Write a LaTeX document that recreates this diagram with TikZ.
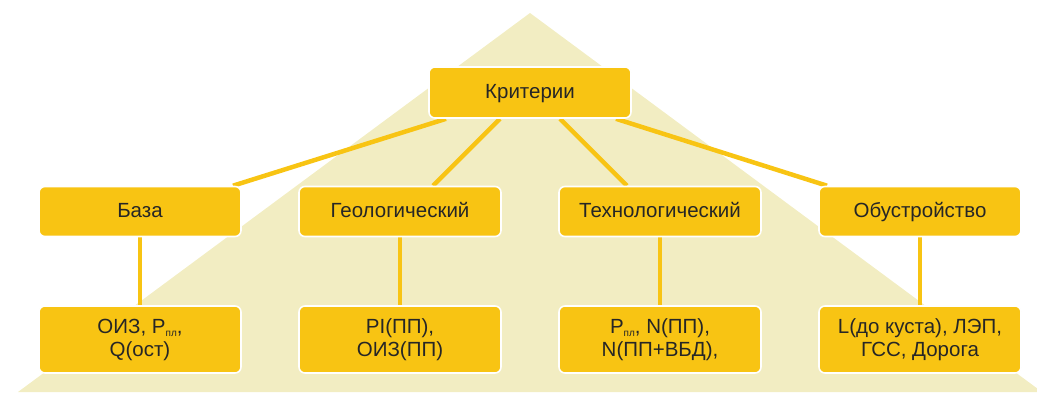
\documentclass[tikz,border=0pt]{standalone}
\usepackage{fontspec}
\setmainfont{Liberation Sans}
\usetikzlibrary{calc,backgrounds}
\definecolor{cream}{HTML}{F2EDC2}
\definecolor{gold}{HTML}{F8C413}
\definecolor{ink}{HTML}{262626}
\newcommand\plsub{\raisebox{-3pt}{\fontsize{10}{10}\selectfont пл}}
\newcommand\mystrut{\rule[-5pt]{0pt}{21pt}}
\tikzset{
  box/.style={draw=white, line width=1.6pt, fill=gold, rounded corners=6pt,
    minimum width=202pt, inner sep=0pt, align=center, text=ink,
    font=\fontsize{20.5}{23}\selectfont},
  midbox/.style={box, minimum height=50pt},
  lowbox/.style={box, minimum height=67pt},
  link/.style={draw=gold, line width=4.5pt}
}
\begin{document}
\begin{tikzpicture}[x=1pt,y=-1pt]
\useasboundingbox (0,0) rectangle (1037,392);
\node[box, minimum height=51pt] (top) at (530,92.5) {\mystrut Критерии};
\node[midbox] (m1) at (140,211.5) {\mystrut База};
\node[midbox] (m2) at (400,211.5) {\mystrut Геологический};
\node[midbox] (m3) at (660,211.5) {\mystrut Технологический};
\node[midbox] (m4) at (920,211.5) {\mystrut Обустройство};
\node[lowbox] (b1) at (140,339.5) {\mystrut ОИЗ, P\plsub,\\\mystrut Q(ост)};
\node[lowbox] (b2) at (400,339.5) {\mystrut PI(ПП),\\\mystrut ОИЗ(ПП)};
\node[lowbox] (b3) at (660,339.5) {\mystrut P\plsub, N(ПП),\\\mystrut N(ПП+ВБД),};
\node[lowbox] (b4) at (920,339.5) {\mystrut L(до куста), ЛЭП,\\\mystrut ГСС, Дорога};
\begin{scope}[on background layer]
  \fill[cream] (530,13) -- (18,392) -- (1042,392) -- cycle;
  \draw[link] ($(top.south)+(-84,0)$) -- ($(m1.north)+(93,0)$);
  \draw[link] ($(top.south)+(-30,0)$) -- ($(m2.north)+(33,0)$);
  \draw[link] ($(top.south)+(30,0)$) -- ($(m3.north)+(-33,0)$);
  \draw[link] ($(top.south)+(86,0)$) -- ($(m4.north)+(-93,0)$);
  \draw[link, line width=4pt] (m1.south) -- (b1.north);
  \draw[link, line width=4pt] (m2.south) -- (b2.north);
  \draw[link, line width=4pt] (m3.south) -- (b3.north);
  \draw[link, line width=4pt] (m4.south) -- (b4.north);
\end{scope}
\end{tikzpicture}
\end{document}
